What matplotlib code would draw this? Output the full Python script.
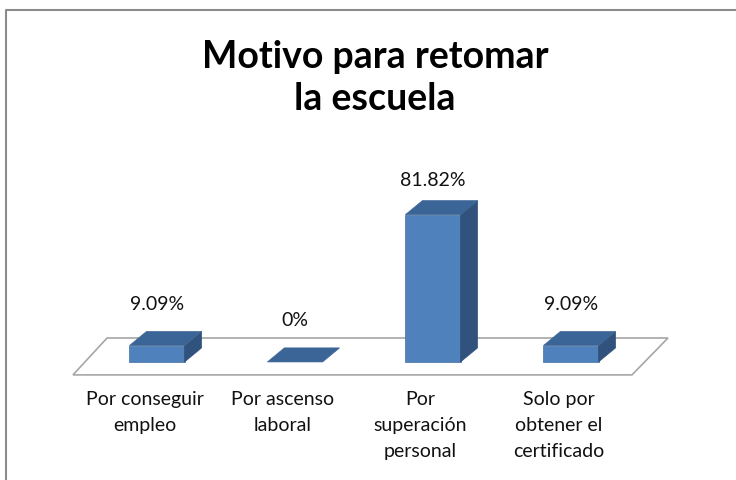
import matplotlib.pyplot as plt
from matplotlib.patches import Polygon
from matplotlib.lines import Line2D

categories = ["Por conseguir\nempleo", "Por ascenso\nlaboral",
              "Por\nsuperación\npersonal", "Solo por\nobtener el\ncertificado"]
values = [9.09, 0, 81.82, 9.09]
value_labels = ["9.09%", "0%", "81.82%", "9.09%"]
title = "Motivo para retomar\nla escuela"

plt.rcParams['font.family'] = ['Lato', 'DejaVu Sans']

front_col = "#4F81BD"
top_col = "#3B6596"
side_col = "#30527C"

fig = plt.figure(figsize=(7.36, 4.8), dpi=100)
ax = fig.add_axes([0, 0, 1, 1])
ax.set_xlim(-1.138, 4.196)
ax.set_ylim(-65.6, 201.1)
ax.axis('off')

# fake 3d depth (data units)
dx, dy = 0.123, 7.8
w = 0.40
xs = list(range(len(values)))

# floor
floor = Polygon([(-0.609, -7.2), (3.442, -7.2), (3.703, 13.3), (-0.362, 13.3)],
                closed=True, facecolor="white", edgecolor="#A6A6A6", lw=1.2, zorder=1)
ax.add_patch(floor)

for x, v, lab in zip(xs, values, value_labels):
    l, r = x - w / 2, x + w / 2
    if v > 0:
        ax.bar(x, v, width=w, color=front_col, edgecolor="#44709F", lw=0.5, zorder=3)
        side = Polygon([(r, 0), (r + dx, dy), (r + dx, v + dy), (r, v)],
                       facecolor=side_col, edgecolor=side_col, lw=0.5, zorder=3)
        ax.add_patch(side)
    top = Polygon([(l, v), (l + dx, v + dy), (r + dx, v + dy), (r, v)],
                  facecolor=top_col, edgecolor=top_col, lw=0.5, zorder=4)
    ax.add_patch(top)
    off = 11 if v > 50 else 15
    ax.text(x, v + dy + off, lab, ha='center', va='center', fontsize=14, color="#111111")

for x, cat in zip(xs, categories):
    ax.text(x - 0.09, -16.0, cat, ha='center', va='top', fontsize=14,
            linespacing=1.65, color="#111111")

fig.text(375 / 736, 1 - 78 / 480, title, ha='center', va='center',
         fontsize=27, fontweight='bold', linespacing=1.29, color="black")

# chart frame (partially visible)
fig.add_artist(Line2D([5.5 / 736, 5.5 / 736, 1], [0, 1 - 9.5 / 480, 1 - 9.5 / 480],
                      transform=fig.transFigure, color="#8C8C8C", lw=1.5))

fig.savefig("out.png", dpi=100, facecolor="white")
